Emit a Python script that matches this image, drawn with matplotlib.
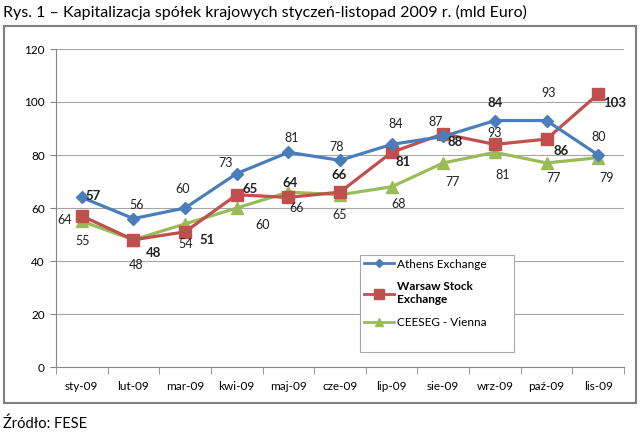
import matplotlib

matplotlib.use("Agg")
import matplotlib.pyplot as plt
from matplotlib.lines import Line2D
from matplotlib.patches import Rectangle

plt.rcParams["font.family"] = ["Lato", "DejaVu Sans"]

months = ["sty-09", "lut-09", "mar-09", "kwi-09", "maj-09", "cze-09",
          "lip-09", "sie-09", "wrz-09", "paź-09", "lis-09"]
athens = [64, 56, 60, 73, 81, 78, 84, 87, 93, 93, 80]
warsaw = [57, 48, 51, 65, 64, 66, 81, 88, 84, 86, 103]
vienna = [55, 48, 54, 60, 66, 65, 68, 77, 81, 77, 79]

# data labels as printed in the source chart
athens_labels = [64, 56, 60, 73, 81, 78, 84, 87, 93, 93, 80]
warsaw_labels = [57, 48, 51, 65, 64, 66, 81, 88, 84, 86, 103]
vienna_labels = [55, 48, 54, 60, 66, 65, 68, 77, 81, 77, 79]

# label offsets from the point, in pixels (dx, dy up)
athens_off = [(-17, -23), (3, 14), (-2, 19), (-11, 11), (3, 14), (-3, 13),
              (4, 20), (-8, 14), (0, -12), (2, 28), (0, 18)]
warsaw_off = [(11, 20), (20, -13), (22, -8), (13, 6), (2, 14), (-1, 17),
              (11, -10), (12, -8), (0, 41), (15, -12), (17, -9)]
vienna_off = [(1, -20), (3, -25), (1, -20), (26, -17), (8, -16), (0, -20),
              (7, -17), (9, -19), (8, -23), (7, -15), (8, -20)]

W, H = 640, 436
fig = plt.figure(figsize=(W / 100, H / 100), dpi=100)
ax = fig.add_axes([56 / W, 1 - 367 / H, (624 - 56) / W, (367 - 49) / H])

x = list(range(len(months)))
blue, red, green = "#4a7ebb", "#c0504d", "#9bbb59"
ax.plot(x, athens, color=blue, lw=2.3, marker="D", ms=6, zorder=5)
ax.plot(x, warsaw, color=red, lw=2.3, marker="s", ms=8, zorder=4)
ax.plot(x, vienna, color=green, lw=2.3, marker="^", ms=8, zorder=3)


def put_labels(vals, labels, offs, bold=False):
    for xi, v, lab, (dx, dy) in zip(x, vals, labels, offs):
        ax.annotate(str(lab), (xi, v), xytext=(dx * 0.72, dy * 0.72),
                    textcoords="offset points", ha="center", va="center",
                    fontsize=9.5 if bold else 9, color="#222222",
                    fontweight="bold" if bold else "normal", zorder=6)


put_labels(athens, athens_labels, athens_off)
put_labels(warsaw, warsaw_labels, warsaw_off, bold=True)
put_labels(vienna, vienna_labels, vienna_off)

ax.set_xlim(-0.5, len(months) - 0.5)
ax.set_ylim(0, 120)
ax.set_yticks(range(0, 121, 20))
ax.set_xticks(x)
ax.set_xticklabels(months)
ax.set_xticks([i - 0.5 for i in range(len(months) + 1)], minor=True)
ax.tick_params(axis="x", which="major", length=0, pad=10, labelsize=8.5)
ax.tick_params(axis="x", which="minor", length=5, color="#868686")
ax.tick_params(axis="y", length=4, color="#868686", labelsize=8.5, pad=4)
ax.grid(axis="y", color="#a6a6a6", lw=0.8)
ax.set_axisbelow(True)
for s in ("top", "right"):
    ax.spines[s].set_visible(False)
for s in ("left", "bottom"):
    ax.spines[s].set_color("#868686")

# legend box
lx0, ly0, lx1, ly1 = 360, 255, 514, 352
ax.add_patch(Rectangle(((lx0 - 56) / 568, (367 - ly1) / 318),
                       (lx1 - lx0) / 568, (ly1 - ly0) / 318,
                       transform=ax.transAxes, facecolor="white",
                       edgecolor="#a6a6a6", lw=0.8, zorder=7))
handles = [
    Line2D([], [], color=blue, lw=2, marker="D", ms=4),
    Line2D([], [], color=red, lw=2, marker="s", ms=7),
    Line2D([], [], color=green, lw=2, marker="^", ms=6),
]
leg = ax.legend(handles, ["Athens Exchange", "Warsaw Stock\nExchange", "CEESEG - Vienna"],
                loc="upper left", bbox_to_anchor=((lx0 - 56) / 568, (367 - ly0) / 318),
                frameon=False, fontsize=8.5, handlelength=2.6, handletextpad=0.2,
                labelspacing=1.0, borderaxespad=0.1, borderpad=0.2)
leg.set_zorder(8)
leg.get_texts()[1].set_fontweight("bold")

fig.patches.append(Rectangle((4 / W, 1 - 403 / H), 632 / W, 377 / H,
                             transform=fig.transFigure, fill=False,
                             edgecolor="#808080", lw=1.5))
fig.text(3 / W, 1 - 12 / H, "Rys. 1 – Kapitalizacja spółek krajowych styczeń-listopad 2009 r. (mld Euro)",
         fontsize=11.5, va="center", ha="left")
fig.text(3 / W, 1 - 424 / H, "Źródło: FESE", fontsize=10.5, va="center", ha="left")

fig.savefig("out.png", dpi=100)
